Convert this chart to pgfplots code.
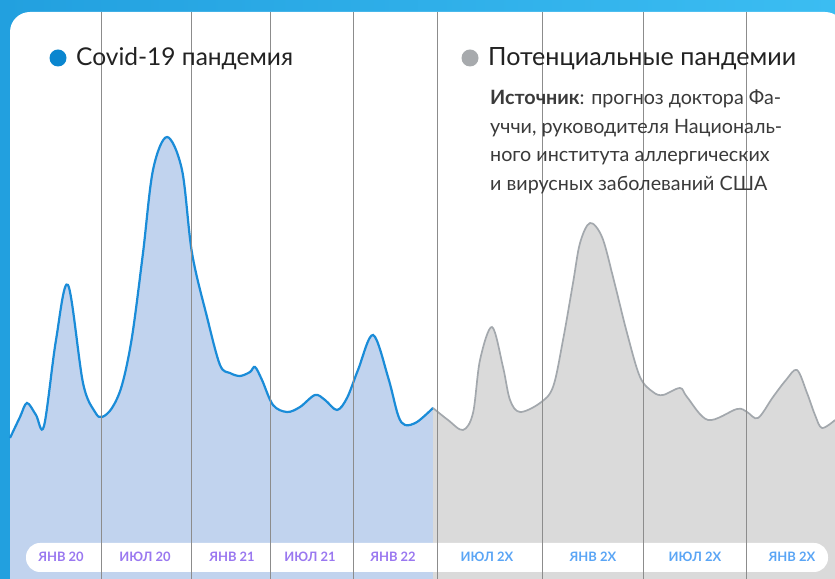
\documentclass[border=0pt]{standalone}
\usepackage{pgfplots}
\pgfplotsset{compat=1.18}
\usepackage{pgfplotstable}
\usepackage{fontspec}
\setmainfont{Lato}
\definecolor{bgA}{HTML}{22A0DF}
\definecolor{bgB}{HTML}{3BBDF2}
\definecolor{bluefill}{HTML}{C1D3EE}
\definecolor{blueline}{HTML}{1A8CD8}
\definecolor{grayfill}{HTML}{DADADA}
\definecolor{grayline}{HTML}{A3A8AD}
\definecolor{gridc}{HTML}{8C8C8C}
\definecolor{dotblue}{HTML}{0A86CF}
\definecolor{dotgray}{HTML}{A7AAAD}
\definecolor{txt}{HTML}{222222}
\definecolor{txt2}{HTML}{3A3A3A}
\definecolor{purp}{HTML}{9A78F0}
\definecolor{lblue}{HTML}{5AA5F5}

\pgfplotstableread{
x y
10 141
20 162
27 176
36 164
44 153
56 239
68 294
83 196
95 167
102 162
112 171
122 194
132 242
143 326
153 409
167 442
182 409
192 326
207 262
220 214
230 206
240 203
250 207
255 212
262 199
273 174
287 167
300 172
315 184
325 179
337 169
347 181
358 209
373 244
388 202
398 164
405 154
417 157
433 171
}\covid

\pgfplotstableread{
x y
433 171
448 159
463 149
473 166
480 219
492 252
503 212
510 179
520 167
540 176
553 192
563 239
573 296
580 336
590 356
602 342
613 302
627 246
640 202
653 187
663 184
680 191
687 182
708 159
737 170
747 167
758 161
773 182
786 199
797 209
807 186
815 164
822 151
835 159
}\future

\begin{document}
\begin{tikzpicture}[x=1bp,y=1bp]
\path[use as bounding box] (0,0) rectangle (835,579);
\clip (0,0) rectangle (835,579);
\shade[left color=bgA, right color=bgB] (0,0) rectangle (835,579);
\fill[white, rounded corners=20bp] (10,-10) rectangle (845,567);
\begin{axis}[at={(0,0)}, anchor=south west, scale only axis,
  width=835bp, height=567bp,
  xmin=0, xmax=835, ymin=0, ymax=567,
  axis line style={draw=none},
  tick style={draw=none},
  xtick={101,191,270,353,437,542,643,746},
  xticklabels={},
  ytick=\empty,
  xmajorgrids,
  grid style={draw=gridc, line width=1bp},
  axis on top,
  clip=true]
\addplot[draw=none, fill=bluefill, smooth, tension=0.55] table[x=x,y=y]{\covid} \closedcycle;
\addplot[draw=none, fill=grayfill, smooth, tension=0.55] table[x=x,y=y]{\future} \closedcycle;
\addplot[draw=blueline, line width=2.2bp, smooth, tension=0.55] table[x=x,y=y]{\covid};
\addplot[draw=grayline, line width=1.7bp, smooth, tension=0.55] table[x=x,y=y]{\future};
\fill[white, rounded corners=14bp] (axis cs:26,7) rectangle (axis cs:828,36);
\end{axis}
% bottom labels
\begin{scope}[every node/.style={font=\fontsize{13}{15}\selectfont\bfseries, inner sep=0pt}]
\node[text=purp] at (61,22) {ЯНВ 20};
\node[text=purp] at (145,22) {ИЮЛ 20};
\node[text=purp] at (232,22) {ЯНВ 21};
\node[text=purp] at (310,22) {ИЮЛ 21};
\node[text=purp] at (393,22) {ЯНВ 22};
\node[text=lblue] at (487,22) {ИЮЛ 2X};
\node[text=lblue] at (593,22) {ЯНВ 2X};
\node[text=lblue] at (695,22) {ИЮЛ 2X};
\node[text=lblue] at (792,22) {ЯНВ 2X};
\end{scope}
% legend
\fill[dotblue] (58,521) circle (8.5);
\node[anchor=west, inner sep=0pt, text=txt, font=\fontsize{24.6}{28}\selectfont] at (76,520) {Covid-19 пандемия};
\fill[dotgray] (470,521) circle (8.5);
\node[anchor=west, inner sep=0pt, text=txt, font=\fontsize{25.2}{28}\selectfont] at (488,520) {Потенциальные пандемии};
\node[anchor=north west, align=left, inner sep=0pt, text=txt2, font=\fontsize{19.8}{28.5}\selectfont] at (490,489)
{\textbf{Источник}: прогноз доктора Фа-\\уччи, руководителя Националь-\\ного института аллергических\\и вирусных заболеваний США};
\end{tikzpicture}
\end{document}
